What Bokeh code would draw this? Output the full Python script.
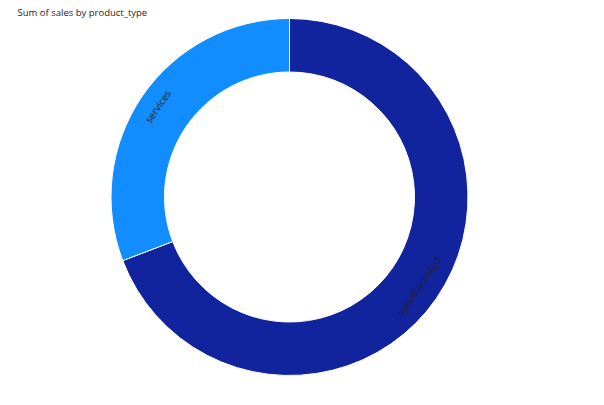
import math
from bokeh.plotting import figure
from bokeh.models import ColumnDataSource
from bokeh.core.properties import value
from bokeh.embed import file_html
from bokeh.resources import INLINE

categories = ["physical goods", "services"]
sales = [69.2, 30.8]
colors = ["#12239E", "#118DFF"]
title_text = "Sum of sales by product_type"

W, H = 588, 389
cx, cy = 289, H - 196.5
r_in, r_out = 125, 178.5
r_lab = 160

total = sum(sales)
starts, ends, mids = [], [], []
acc = 0.0
for v in sales:
    a0 = math.pi / 2 - 2 * math.pi * acc / total
    acc += v
    a1 = math.pi / 2 - 2 * math.pi * acc / total
    starts.append(a0)
    ends.append(a1)
    mids.append((a0 + a1) / 2)

src = ColumnDataSource(dict(
    cat=categories, start=starts, end=ends, color=colors,
    x=[cx] * len(sales), y=[cy] * len(sales),
    lx=[cx + r_lab * math.cos(m) for m in mids],
    ly=[cy + r_lab * math.sin(m) for m in mids],
    rot=[m - math.pi / 2 for m in mids],
))

p = figure(width=W, height=H, x_range=(0, W), y_range=(0, H),
           output_backend="svg", toolbar_location=None, min_border=0)
p.axis.visible = False
p.grid.visible = False
p.outline_line_color = None
p.background_fill_color = "white"
p.border_fill_color = "white"

p.annular_wedge(x="x", y="y", inner_radius=r_in, outer_radius=r_out,
                start_angle="start", end_angle="end", direction="clock",
                fill_color="color", line_color="white", line_width=1,
                inner_radius_units="screen", outer_radius_units="screen",
                source=src)

p.text(x="lx", y="ly", text="cat", angle="rot", text_align="center",
       text_baseline="middle", text_font=value("Open Sans"),
       text_font_size="10px", text_color="#252423", source=src)

p.text(x=[17], y=[H - 12], text=[title_text], text_align="left",
       text_baseline="middle", text_font=value("Open Sans"),
       text_font_size="9.5px", text_color="#252423")

open("out.html", "w").write(file_html(p, INLINE))
